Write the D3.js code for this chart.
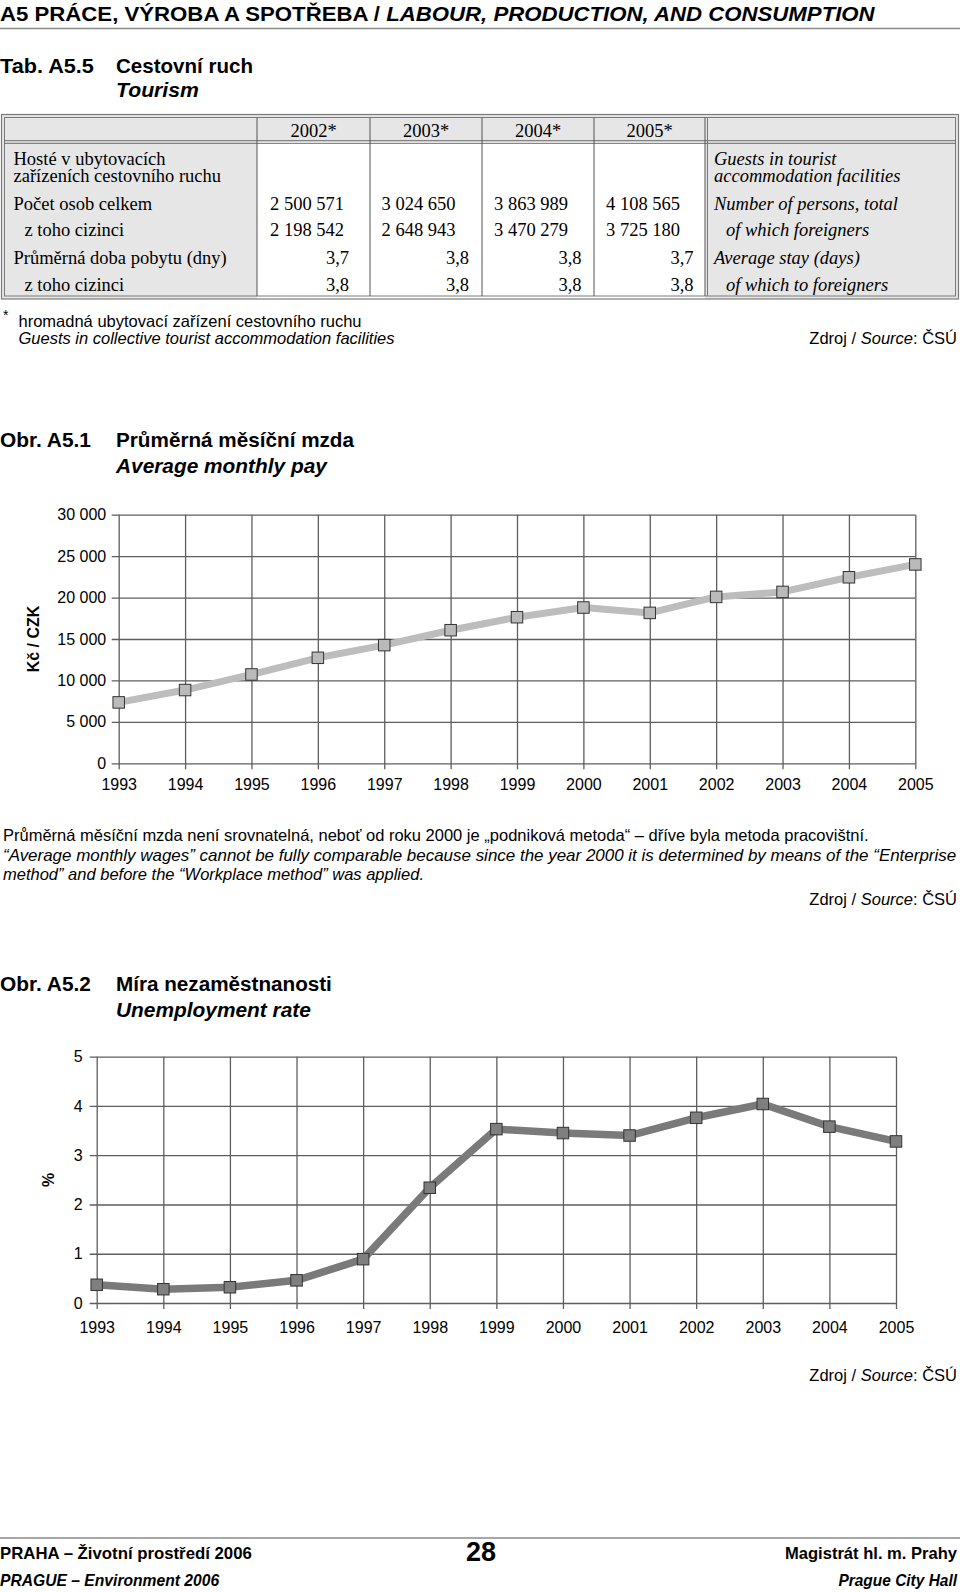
<!DOCTYPE html>
<html><head><meta charset="utf-8">
<script src="https://cdn.jsdelivr.net/npm/d3@7"></script>
<style>
body{margin:0;background:#fff;}
svg{display:block;}
</style></head><body>
<svg id="page" width="960" height="1592"></svg>
<script>
// ---------------- DATA ----------------
const tableYears = ["2002*", "2003*", "2004*", "2005*"];
const personsTotal = ["2 500 571", "3 024 650", "3 863 989", "4 108 565"];
const personsForeign = ["2 198 542", "2 648 943", "3 470 279", "3 725 180"];
const avgStay = ["3,7", "3,8", "3,8", "3,7"];
const avgStayForeign = ["3,8", "3,8", "3,8", "3,8"];
const rowLabelsCz = ["Hosté v ubytovacích", "zařízeních cestovního ruchu", "Počet osob celkem", "z toho cizinci", "Průměrná doba pobytu (dny)", "z toho cizinci"];
const rowLabelsEn = ["Guests in tourist", "accommodation facilities", "Number of persons, total", "of which foreigners", "Average stay (days)", "of which to foreigners"];

const years = [1993, 1994, 1995, 1996, 1997, 1998, 1999, 2000, 2001, 2002, 2003, 2004, 2005];
const wages = [7350, 8840, 10720, 12730, 14260, 16060, 17630, 18800, 18150, 20080, 20680, 22450, 24000];
const unemployment = [0.37, 0.28, 0.32, 0.46, 0.89, 2.34, 3.53, 3.45, 3.40, 3.76, 4.04, 3.58, 3.28];
const wageTicks = [0, 5000, 10000, 15000, 20000, 25000, 30000];
const unempTicks = [0, 1, 2, 3, 4, 5];

// ---------------- HELPERS ----------------
const SANS = "'Liberation Sans', Arial, Helvetica, sans-serif";
const SERIF = "'Liberation Serif', 'Times New Roman', serif";
const svg = d3.select("#page");

function txt(x, y, parts, o = {}) {
  const t = svg.append("text").attr("x", x).attr("y", y)
    .attr("font-family", o.family || SANS).attr("font-size", o.size || 16)
    .attr("font-weight", o.bold ? "bold" : "normal")
    .attr("font-style", o.italic ? "italic" : "normal")
    .attr("text-anchor", o.anchor || "start").attr("fill", "#000");
  if (typeof parts === "string") parts = [[parts, {}]];
  parts.forEach(([s, po]) => {
    const ts = t.append("tspan").text(s);
    if (po.italic !== undefined) ts.attr("font-style", po.italic ? "italic" : "normal");
    if (po.bold !== undefined) ts.attr("font-weight", po.bold ? "bold" : "normal");
  });
  if (o.width) {
    const w = t.node().getBBox().width;
    const s = o.width / w;
    t.attr("x", 0).attr("y", 0).attr("transform", `translate(${x},${y}) scale(${s},1)`);
  }
  return t;
}
function hline(x1, x2, y, c, w) {
  svg.append("line").attr("x1", x1).attr("x2", x2).attr("y1", y).attr("y2", y).attr("stroke", c).attr("stroke-width", w);
}
function vline(x, y1, y2, c, w) {
  svg.append("line").attr("x1", x).attr("x2", x).attr("y1", y1).attr("y2", y2).attr("stroke", c).attr("stroke-width", w);
}

// ---------------- PAGE HEADER ----------------
txt(0, 20.5, [["A5  PRÁCE, VÝROBA A SPOTŘEBA / ", {}], ["LABOUR, PRODUCTION, AND CONSUMPTION", { italic: true }]], { size: 21, bold: true, width: 876 });
hline(0, 960, 28.5, "#8a8a8a", 1.6);

txt(0, 73, "Tab. A5.5", { size: 20, bold: true, width: 94 });
txt(116, 73, "Cestovní ruch", { size: 20, bold: true, width: 137 });
txt(116, 97, "Tourism", { size: 20, bold: true, italic: true, width: 83 });

// ---------------- TABLE ----------------
const tTop = 114.5, tBot = 299, tLeft = 1.5, tRight = 958.5, hdrY = 142;
const colL = [257, 370, 482, 594];
const colR = [370, 482, 594, 705];
svg.append("rect").attr("x", tLeft).attr("y", tTop).attr("width", tRight - tLeft).attr("height", tBot - tTop).attr("fill", "#e6e6e6");
svg.append("rect").attr("x", colL[0]).attr("y", hdrY).attr("width", colR[3] - colL[0]).attr("height", tBot - hdrY).attr("fill", "#fff");
svg.append("rect").attr("x", tLeft).attr("y", tTop).attr("width", tRight - tLeft).attr("height", tBot - tTop).attr("fill", "none").attr("stroke", "#7a7a7a").attr("stroke-width", 1.2);
svg.append("rect").attr("x", tLeft + 3).attr("y", tTop + 3).attr("width", tRight - tLeft - 6).attr("height", tBot - tTop - 6).attr("fill", "none").attr("stroke", "#7a7a7a").attr("stroke-width", 1);
hline(tLeft + 3, tRight - 3, hdrY - 1.3, "#6a6a6a", 1);
hline(tLeft + 3, tRight - 3, hdrY + 1.3, "#6a6a6a", 1);
colL.forEach(x => vline(x, tTop + 3, tBot - 3, "#555", 1));
vline(705, tTop + 3, tBot - 3, "#555", 1);
vline(707.5, tTop + 3, tBot - 3, "#777", 1);

const rowY = [164.5, 182, 209.5, 236, 263.5, 291];
const TS = 18.5;
tableYears.forEach((s, i) => txt((colL[i] + colR[i]) / 2, 137, s, { family: SERIF, size: TS, anchor: "middle" }));
rowLabelsCz.forEach((s, i) => txt((i === 3 || i === 5) ? 24.5 : 13.5, rowY[i], s, { family: SERIF, size: TS }));
rowLabelsEn.forEach((s, i) => txt((i === 3 || i === 5) ? 726 : 714, rowY[i], s, { family: SERIF, size: TS, italic: true }));
const bigStart = [270, 381.5, 494, 606];
const decEnd = [349, 469, 581.5, 693.5];
personsTotal.forEach((s, i) => txt(bigStart[i], rowY[2], s, { family: SERIF, size: TS }));
personsForeign.forEach((s, i) => txt(bigStart[i], rowY[3], s, { family: SERIF, size: TS }));
avgStay.forEach((s, i) => txt(decEnd[i], rowY[4], s, { family: SERIF, size: TS, anchor: "end" }));
avgStayForeign.forEach((s, i) => txt(decEnd[i], rowY[5], s, { family: SERIF, size: TS, anchor: "end" }));

// footnote
txt(3, 320, "*", { size: 14 });
txt(18.5, 327, "hromadná ubytovací zařízení cestovního ruchu", { size: 16.5 });
txt(18.5, 344, "Guests in collective tourist accommodation facilities", { size: 16.5, italic: true });
txt(957, 344, [["Zdroj / ", {}], ["Source", { italic: true }], [": ČSÚ", {}]], { size: 16.5, anchor: "end" });

// ---------------- CHART 1 ----------------
txt(0, 447, "Obr. A5.1", { size: 20, bold: true, width: 91 });
txt(116, 447, "Průměrná měsíční mzda", { size: 20, bold: true, width: 239 });
txt(116, 473, "Average monthly pay", { size: 20, bold: true, italic: true, width: 213 });

const loc = d3.formatLocale({ decimal: ",", thousands: " ", grouping: [3], currency: ["", ""] });
const fmtThousands = loc.format(",d");

function lineChart(cfg) {
  const { x0, x1, y0, y1, domainY, ticks, values, tickFmt, padL, padB, lineColor, lineW, mFill } = cfg;
  const x = d3.scaleLinear().domain([years[0], years[years.length - 1]]).range([x0, x1]);
  const y = d3.scaleLinear().domain(domainY).range([y0, y1]);
  const gy = svg.append("g").attr("transform", `translate(${x0},0)`)
    .call(d3.axisLeft(y).tickValues(ticks).tickSize(-(x1 - x0)).tickPadding(padL).tickFormat(tickFmt));
  gy.select(".domain").remove();
  gy.selectAll("line").attr("x1", -7).attr("stroke", "#5e5e5e").attr("stroke-width", 1.3);
  gy.selectAll("text").attr("font-family", SANS).attr("font-size", 16).attr("fill", "#000");
  const gx = svg.append("g").attr("transform", `translate(0,${y0})`)
    .call(d3.axisBottom(x).tickValues(years).tickSize(-(y0 - y1)).tickPadding(padB).tickFormat(d3.format("d")));
  gx.select(".domain").remove();
  gx.selectAll("line").attr("y1", 6).attr("stroke", "#5e5e5e").attr("stroke-width", 1.3);
  gx.selectAll("text").attr("font-family", SANS).attr("font-size", 16).attr("fill", "#000");
  const pts = years.map((yr, i) => [yr, values[i]]);
  svg.append("path").datum(pts)
    .attr("d", d3.line().x(d => x(d[0])).y(d => y(d[1])))
    .attr("fill", "none").attr("stroke", lineColor).attr("stroke-width", lineW)
    .attr("stroke-linejoin", "round").attr("stroke-linecap", "butt");
  const m = 11.5;
  svg.append("g").selectAll("rect").data(pts).join("rect")
    .attr("x", d => x(d[0]) - m / 2).attr("y", d => y(d[1]) - m / 2)
    .attr("width", m).attr("height", m)
    .attr("fill", mFill).attr("stroke", "#333").attr("stroke-width", 1);
}

lineChart({ x0: 118.7, x1: 915.3, y0: 763.3, y1: 514.7, domainY: [0, 30000], ticks: wageTicks, values: wages,
  tickFmt: fmtThousands, padL: 12.5, padB: 15.3, lineColor: "#bdbdbd", lineW: 7, mFill: "#bababa" });
svg.append("text").attr("transform", "translate(33.5,639) rotate(-90)").attr("text-anchor", "middle")
  .attr("dominant-baseline", "central").attr("font-family", SANS).attr("font-size", 16).attr("font-weight", "bold").text("Kč / CZK");

txt(3, 841, "Průměrná měsíční mzda není srovnatelná, neboť od roku 2000 je „podniková metoda“ – dříve byla metoda pracovištní.", { size: 16.5 });
txt(3, 860.5, "“Average monthly wages” cannot be fully comparable because since the year 2000 it is determined by means of the “Enterprise", { size: 16.5, italic: true, width: 954 });
txt(3, 880, "method” and before the “Workplace method” was applied.", { size: 16.5, italic: true });
txt(957, 905, [["Zdroj / ", {}], ["Source", { italic: true }], [": ČSÚ", {}]], { size: 16.5, anchor: "end" });

// ---------------- CHART 2 ----------------
txt(0, 991, "Obr. A5.2", { size: 20, bold: true, width: 91 });
txt(116, 991, "Míra nezaměstnanosti", { size: 20, bold: true, width: 216 });
txt(116, 1017, "Unemployment rate", { size: 20, bold: true, italic: true, width: 195 });

lineChart({ x0: 96.7, x1: 896, y0: 1303, y1: 1056.7, domainY: [0, 5], ticks: unempTicks, values: unemployment,
  tickFmt: d3.format("d"), padL: 14, padB: 18.6, lineColor: "#7a7a7a", lineW: 7.5, mFill: "#7f7f7f" });
svg.append("text").attr("transform", "translate(48,1180) rotate(-90)").attr("text-anchor", "middle")
  .attr("dominant-baseline", "central").attr("font-family", SANS).attr("font-size", 16).attr("font-weight", "bold").text("%");

txt(957, 1381, [["Zdroj / ", {}], ["Source", { italic: true }], [": ČSÚ", {}]], { size: 16.5, anchor: "end" });

// ---------------- FOOTER ----------------
hline(0, 960, 1538, "#8a8a8a", 1.6);
txt(0, 1559, "PRAHA – Životní prostředí 2006", { size: 16.5, bold: true, width: 252 });
txt(0, 1586, "PRAGUE – Environment 2006", { size: 16.5, bold: true, italic: true, width: 220 });
txt(481, 1561, "28", { size: 27, bold: true, anchor: "middle" });
txt(957, 1559, "Magistrát hl. m. Prahy", { size: 16.5, bold: true, anchor: "end", width: 173 });
txt(957, 1586, "Prague City Hall", { size: 16.5, bold: true, italic: true, anchor: "end", width: 119 });
</script>
</body></html>
